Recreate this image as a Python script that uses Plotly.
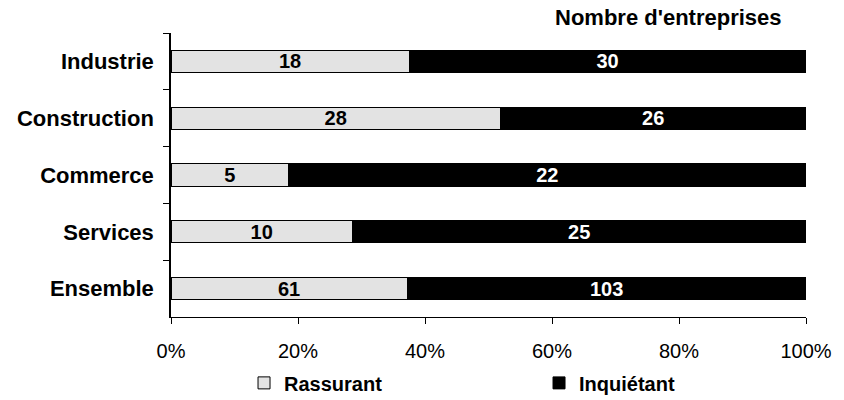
import plotly.graph_objects as go

# Survey results by sector: number of firms giving each answer
categories = ["Industrie", "Construction", "Commerce", "Services", "Ensemble"]
rassurant = [18, 28, 5, 10, 61]
inquietant = [30, 26, 22, 25, 103]
x_ticks = [0, 20, 40, 60, 80, 100]
x_tick_labels = ["0%", "20%", "40%", "60%", "80%", "100%"]

FONT = "Liberation Sans, Arial, sans-serif"

fig = go.Figure()
fig.add_trace(go.Bar(
    name="Rassurant",
    y=categories, x=rassurant, orientation="h",
    text=rassurant, textposition="inside", insidetextanchor="middle",
    textangle=0, constraintext="none",
    textfont=dict(family=FONT, size=20, color="black", weight="bold"),
    marker=dict(color="#e3e3e3", line=dict(color="black", width=1)),
))
fig.add_trace(go.Bar(
    name="Inquiétant",
    y=categories, x=inquietant, orientation="h",
    text=inquietant, textposition="inside", insidetextanchor="middle",
    textangle=0, constraintext="none",
    textfont=dict(family=FONT, size=20, color="white", weight="bold"),
    marker=dict(color="black", line=dict(color="black", width=1)),
))

fig.update_layout(
    width=844, height=400,
    margin=dict(l=171, r=38, t=33, b=83, autoexpand=False),
    barmode="stack", barnorm="percent", bargap=0.61,
    plot_bgcolor="white", paper_bgcolor="white",
    font=dict(family=FONT, size=20, color="black"),
    showlegend=True,
    legend=dict(
        orientation="h", x=0.115, xanchor="left", y=-0.232, yanchor="middle",
        font=dict(family=FONT, size=20, color="black", weight="bold"),
        entrywidth=250, entrywidthmode="pixels",
        traceorder="normal",
    ),
    xaxis=dict(
        range=[0, 100], tickvals=x_ticks, ticktext=x_tick_labels,
        showgrid=False, zeroline=False, automargin=False,
        showline=True, linecolor="black", linewidth=1,
        ticks="outside", ticklen=6, tickcolor="black",
        tickfont=dict(family=FONT, size=20, color="black"),
        ticklabelstandoff=10,
    ),
    yaxis=dict(
        categoryorder="array", categoryarray=categories, autorange="reversed",
        showgrid=False, zeroline=False, automargin=False,
        showline=True, linecolor="black", linewidth=1.5,
        ticks="outside", ticklen=6, tickcolor="black", tickson="boundaries",
        tickfont=dict(family=FONT, size=22, color="black", weight="bold"),
        ticklabelstandoff=11,
    ),
    annotations=[dict(
        text="<b>Nombre d'entreprises</b>", xref="paper", yref="paper",
        x=0.783, y=1.053, xanchor="center", yanchor="middle", showarrow=False,
        font=dict(family=FONT, size=22, color="black"),
    )],
)

fig.write_html("out.html")
